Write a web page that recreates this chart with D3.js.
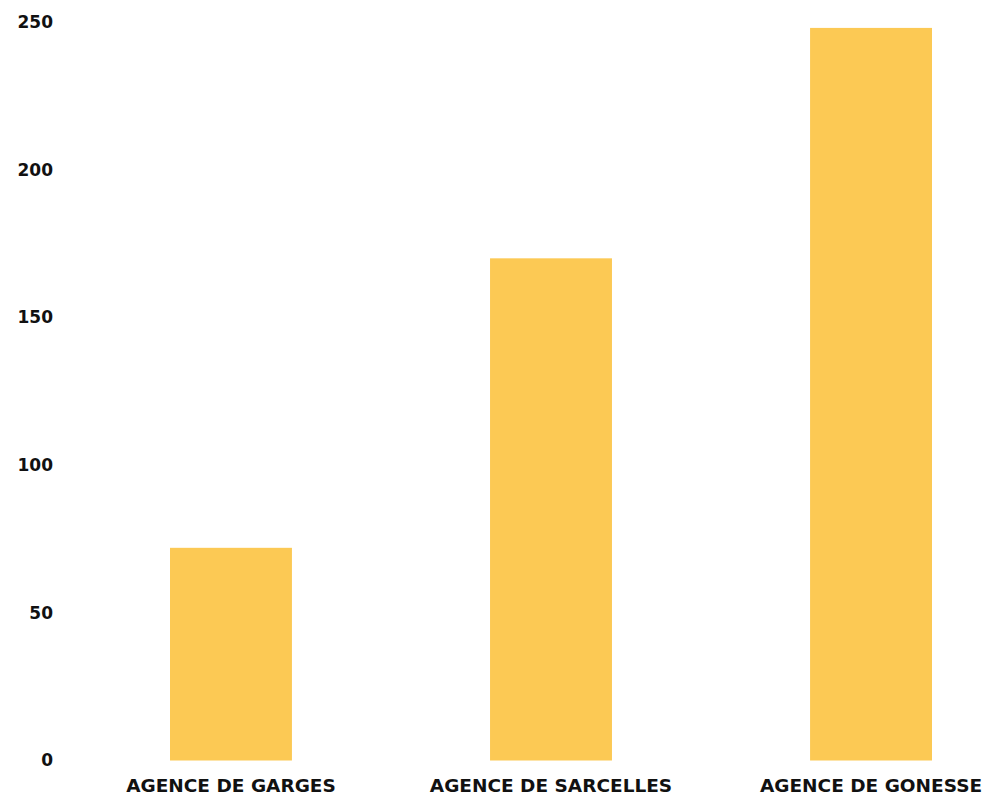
<!DOCTYPE html>
<html><head><meta charset="utf-8">
<script src="https://cdn.jsdelivr.net/npm/d3@7"></script>
<style>body{margin:0;background:#fff}svg{display:block}</style>
</head><body><svg id="c" width="982" height="795"></svg>
<script>
const categories = ["AGENCE DE GARGES", "AGENCE DE SARCELLES", "AGENCE DE GONESSE"];
const values = [72, 170, 248];
const yTicks = [0, 50, 100, 150, 200, 250];

const svg = d3.select("#c");
const x = d3.scaleBand().domain(categories).range([138, 964]).paddingInner(0.619).paddingOuter(0.1);
const y = d3.scaleLinear().domain([0, 250]).range([760.5, 22]);
const font = "'DejaVu Sans', sans-serif";

svg.append("g").selectAll("rect").data(values).join("rect")
  .attr("x", (d, i) => x(categories[i]))
  .attr("width", x.bandwidth())
  .attr("y", d => y(d))
  .attr("height", d => y(0) - y(d))
  .attr("fill", "#FCC954");

const ya = svg.append("g").attr("transform", "translate(53,0)")
  .call(d3.axisLeft(y).tickValues(yTicks).tickSize(0).tickPadding(0));
ya.select(".domain").remove();
ya.selectAll("text").attr("font-family", font).attr("font-weight", "bold")
  .attr("font-size", 17).attr("fill", "#111");

const xa = svg.append("g")
  .call(d3.axisBottom(x).tickSize(0).tickPadding(0));
xa.select(".domain").remove();
xa.selectAll("text").attr("y", 791.5).attr("dy", 0).attr("font-family", font).attr("font-weight", "bold")
  .attr("font-size", 18.5).attr("fill", "#111");
</script></body></html>
